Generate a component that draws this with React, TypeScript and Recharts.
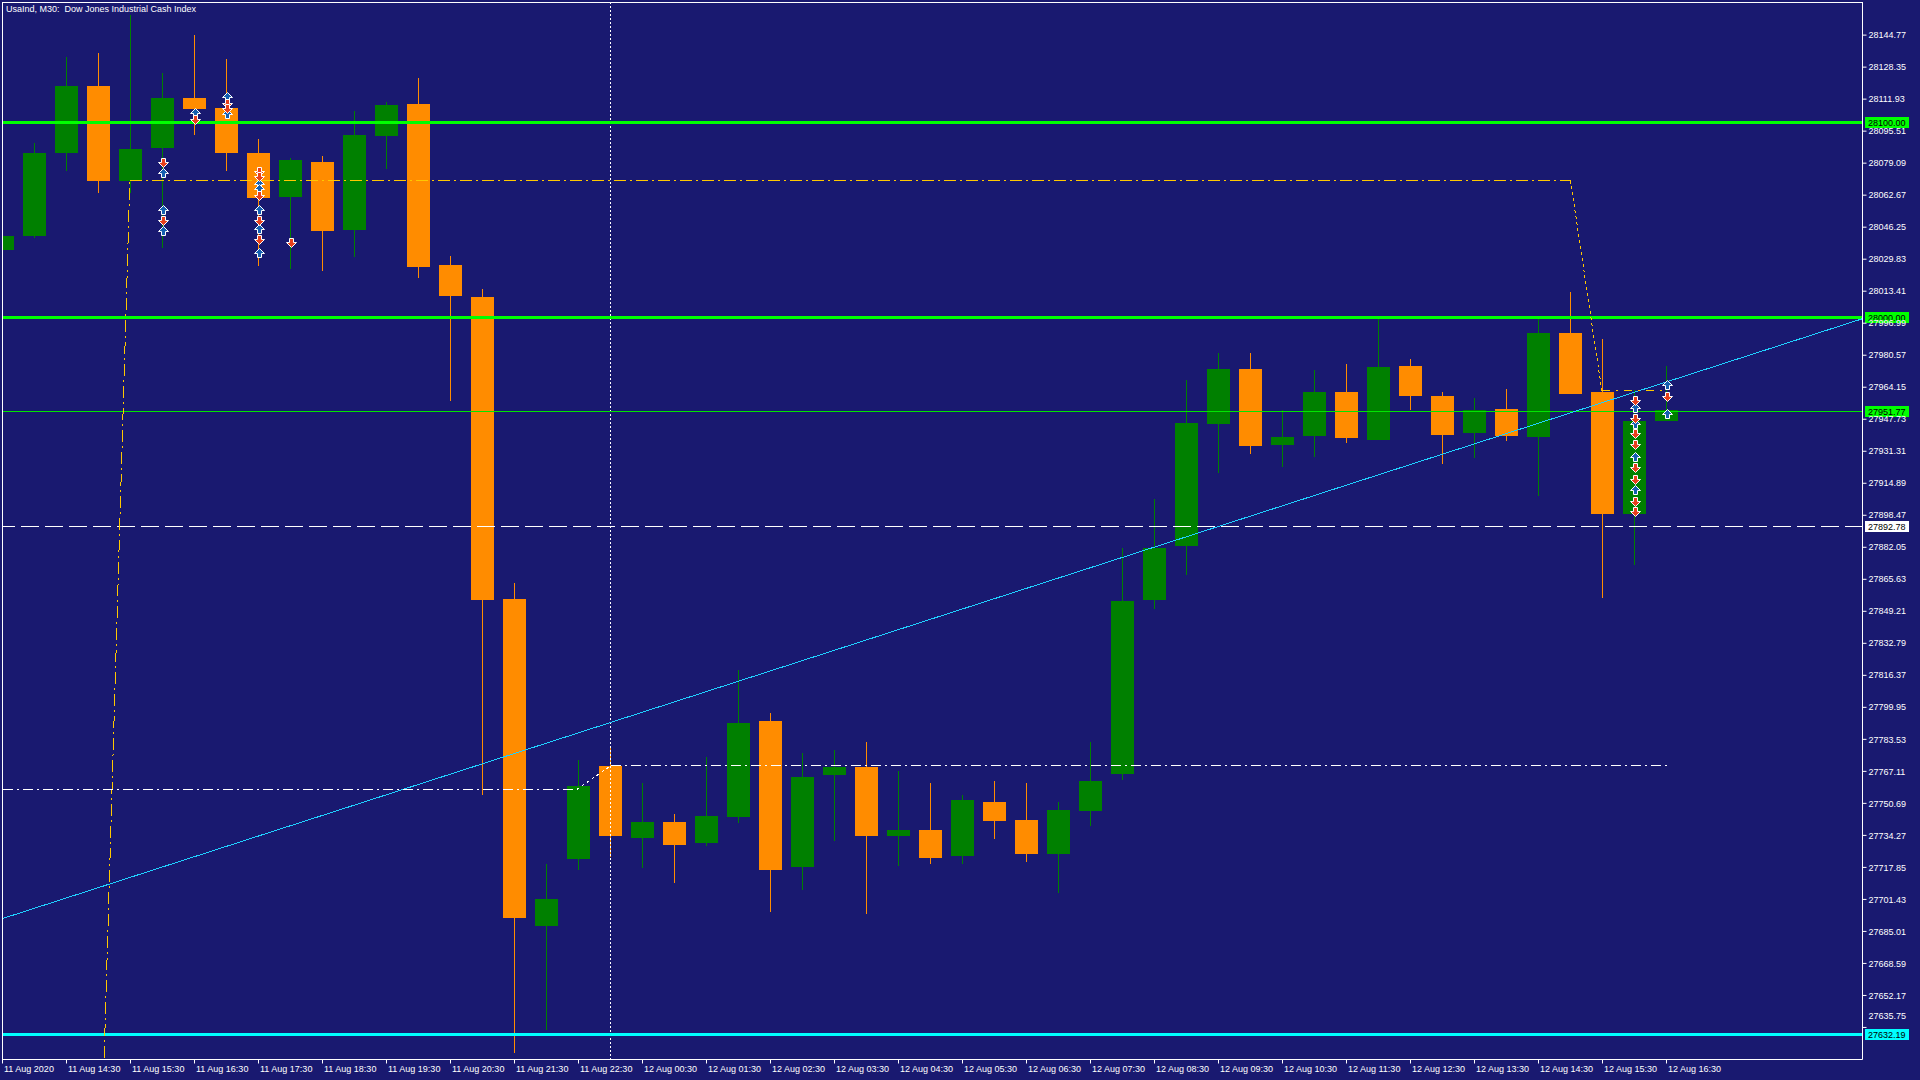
import { Bar, ComposedChart, ReferenceLine, Scatter, XAxis, YAxis } from 'recharts';

// M30 bars, index 0 = 11 Aug 13:30
const opens = [
  28034.5, 28041.8, 28084.5, 28118.8, 28069.9, 28086.9, 28112.6, 28107.4, 28084.5, 28061.9,
  28079.6, 28044.9, 28093.1, 28109.4, 28026.9, 28010.6, 27855.5, 27688.0, 27722.0, 27769.8,
  27732.7, 27741.0, 27730.6, 27743.5, 27792.7, 27717.8, 27765.0, 27769.1, 27733.7, 27736.9,
  27723.7, 27751.5, 27742.1, 27724.7, 27746.9, 27765.7, 27855.2, 27882.6, 27945.4, 27973.5,
  27934.3, 27939.1, 27961.7, 27937.0, 27975.2, 27959.6, 27940.5, 27953.0, 27938.4, 27991.9,
  27961.7, 27899.2, 27946.9,
];
const highs = [
  28042.2, 28089.3, 28133.7, 28135.8, 28155.2, 28125.1, 28144.8, 28132.7, 28091.4, 28081.7,
  28082.7, 28106.0, 28110.5, 28123.0, 28031.4, 28014.4, 27863.8, 27719.5, 27772.9, 27779.9,
  27761.1, 27745.2, 27774.3, 27819.1, 27796.9, 27776.4, 27778.1, 27782.0, 27767.4, 27761.1,
  27755.2, 27762.2, 27761.1, 27751.5, 27782.0, 27881.5, 27906.9, 27967.9, 27981.8, 27981.8,
  27952.6, 27973.1, 27976.2, 27999.8, 27978.7, 27961.7, 27958.5, 27963.4, 28000.9, 28013.0,
  27989.1, 27962.7, 27975.0,
];
const lows = [
  28034.0, 28040.8, 28075.1, 28064.0, 28064.0, 28035.6, 28093.5, 28075.1, 28026.2, 28024.8,
  28023.8, 28031.0, 28076.1, 28020.3, 27957.1, 27755.2, 27622.7, 27634.2, 27716.4, 27723.3,
  27717.5, 27709.8, 27729.0, 27740.7, 27695.2, 27706.0, 27731.3, 27694.2, 27718.5, 27719.5,
  27719.5, 27732.4, 27720.6, 27704.6, 27739.0, 27762.5, 27850.3, 27867.7, 27920.4, 27929.7,
  27923.2, 27928.4, 27935.3, 27937.0, 27952.6, 27924.6, 27927.7, 27936.4, 27908.6, 27960.6,
  27856.2, 27872.8, 27946.9,
];
const closes = [
  28041.8, 28084.5, 28118.8, 28069.9, 28086.5, 28112.6, 28106.7, 28084.5, 28061.2, 28080.6,
  28044.2, 28093.5, 28109.1, 28025.8, 28010.9, 27855.2, 27692.1, 27701.5, 27759.4, 27733.7,
  27741.0, 27729.2, 27744.1, 27792.0, 27716.4, 27764.3, 27769.5, 27733.7, 27736.9, 27722.6,
  27752.5, 27741.7, 27724.7, 27747.3, 27762.2, 27854.5, 27881.5, 27945.7, 27973.5, 27933.9,
  27938.8, 27961.7, 27938.1, 27974.5, 27959.9, 27939.5, 27952.6, 27939.1, 27991.9, 27960.6,
  27899.2, 27946.7, 27952.4,
];

// one label every second bar
const timeLabels = [
  '11 Aug 2020', '11 Aug 14:30', '11 Aug 15:30', '11 Aug 16:30', '11 Aug 17:30', '11 Aug 18:30',
  '11 Aug 19:30', '11 Aug 20:30', '11 Aug 21:30', '11 Aug 22:30', '12 Aug 00:30', '12 Aug 01:30',
  '12 Aug 02:30', '12 Aug 03:30', '12 Aug 04:30', '12 Aug 05:30', '12 Aug 06:30', '12 Aug 07:30',
  '12 Aug 08:30', '12 Aug 09:30', '12 Aug 10:30', '12 Aug 11:30', '12 Aug 12:30', '12 Aug 13:30',
  '12 Aug 14:30', '12 Aug 15:30', '12 Aug 16:30',
];

const priceTicks = [
  28144.77, 28128.35, 28111.93, 28095.51, 28079.09, 28062.67, 28046.25, 28029.83, 28013.41, 27996.99,
  27980.57, 27964.15, 27947.73, 27931.31, 27914.89, 27898.47, 27882.05, 27865.63, 27849.21, 27832.79,
  27816.37, 27799.95, 27783.53, 27767.11, 27750.69, 27734.27, 27717.85, 27701.43, 27685.01, 27668.59,
  27652.17, 27635.75,
];

// trade arrows
const buyBars = [5, 5, 5, 6, 7, 7, 8, 8, 8, 8, 8, 51, 51, 51, 51, 52, 52];
const buyPrices = [
  28074.0, 28055.1, 28044.4, 28105.0, 28113.0, 28104.3, 28068.4, 28065.7, 28055.1, 28045.2, 28032.9,
  27953.7, 27945.1, 27928.5, 27911.4, 27965.3, 27950.4,
];
const sellBars = [5, 5, 6, 7, 7, 8, 8, 8, 8, 8, 9, 51, 51, 51, 51, 51, 51, 51, 51, 52];
const sellPrices = [
  28079.8, 28049.9, 28101.6, 28109.8, 28107.2, 28075.1, 28072.7, 28062.8, 28050.1, 28040.0, 28038.8,
  27957.6, 27948.5, 27940.5, 27934.9, 27923.4, 27917.2, 27905.9, 27900.7, 27959.5,
];

// horizontal levels
const levelPrices = [28100.0, 28000.0, 27951.77, 27892.78, 27632.19];

// drawn objects: [bar, price] pairs
const trendLine = [[0, 27691.6], [58.125, 27999.3]];
const yellowPath = [[3.156, 27608.8], [3.98, 28070.2], [49.0, 28070.2], [49.98, 27962.3], [51.9, 27962.3]];
const whitePath = [[0, 27757.8], [17.95, 27757.8], [19.0, 27769.9], [52.0, 27769.9]];
const separatorBar = 19;

const X_DOMAIN: [number, number] = [0, 58.125];
const Y_DOMAIN: [number, number] = [27619.31, 28161.5];

const BG = '#191970';
const UP = '#008000';
const DOWN = '#ff8c00';
const FONT = '"Liberation Sans", Arial, sans-serif';

const candles = opens.map((o, i) => ({ i, o, h: highs[i], l: lows[i], c: closes[i] }));
const buys = buyBars.map((i, n) => ({ i, p: buyPrices[n] }));
const sells = sellBars.map((i, n) => ({ i, p: sellPrices[n] }));

function Candle(props: any) {
  const { x, y, width, height, payload } = props;
  if (!payload || height == null) return null;
  const { o, h, l, c } = payload;
  const cx = x + width / 2;
  const k = height / (h - l || 1);
  const yo = y + (h - o) * k;
  const yc = y + (h - c) * k;
  const color = c >= o ? UP : DOWN;
  const top = Math.round(Math.min(yo, yc));
  const bot = Math.max(top + 1, Math.round(Math.max(yo, yc)));
  const wt = Math.round(y);
  const wb = Math.round(y + height);
  return (
    <g shapeRendering="crispEdges">
      <rect x={cx - 0.5} y={wt} width={1} height={Math.max(1, wb - wt)} fill={color} />
      <rect x={cx - 11.5} y={top} width={23} height={bot - top} fill={color} />
    </g>
  );
}

function UpArrow({ cx, cy }: any) {
  if (cx == null) return null;
  const px = Math.round(cx) + 0.5;
  const py = Math.round(cy) + 0.5;
  const pts = [[0, -5], [5, 0], [2, 0], [2, 4], [-2, 4], [-2, 0], [-5, 0]];
  return (
    <polygon
      points={pts.map(([a, b]) => `${px + a},${py + b}`).join(' ')}
      fill="#1560b0"
      stroke="#ffffff"
      strokeWidth={1}
    />
  );
}

function DownArrow({ cx, cy }: any) {
  if (cx == null) return null;
  const px = Math.round(cx) + 0.5;
  const py = Math.round(cy) + 0.5;
  const pts = [[0, 5], [5, 0], [2, 0], [2, -4], [-2, -4], [-2, 0], [-5, 0]];
  return (
    <polygon
      points={pts.map(([a, b]) => `${px + a},${py + b}`).join(' ')}
      fill="#e8401c"
      stroke="#ffffff"
      strokeWidth={1}
    />
  );
}

function PriceBox({ viewBox, bg, text }: any) {
  if (!viewBox) return null;
  const x = viewBox.x + viewBox.width + 2.5;
  const y = Math.round(viewBox.y);
  return (
    <g>
      <rect x={x} y={y - 5} width={44} height={11} fill={bg} />
      <text x={x + 3} y={y + 0.5} dy="0.35em" fill="#000000" fontSize={9} fontFamily={FONT}>
        {text}
      </text>
    </g>
  );
}

function TimeTick({ x, y, payload }: any) {
  return (
    <text x={x + 1.5} y={y} dy="0.71em" fill="#ffffff" fontSize={9} fontFamily={FONT} textAnchor="start">
      {timeLabels[payload.value / 2]}
    </text>
  );
}

function PriceTick({ x, y, payload }: any) {
  const last = payload.value === priceTicks[priceTicks.length - 1];
  return (
    <text x={x} y={y + (last ? -12 : 0)} dy="0.35em" fill="#ffffff" fontSize={9} fontFamily={FONT} textAnchor="start">
      {payload.value.toFixed(2)}
    </text>
  );
}

function segs(path: number[][]) {
  return path.slice(1).map((pt, n) => [
    { x: path[n][0], y: path[n][1] },
    { x: pt[0], y: pt[1] },
  ]);
}

const levelStyles = [
  { stroke: '#00ff00', width: 3, dash: undefined, bg: '#00ff00' },
  { stroke: '#00ff00', width: 3, dash: undefined, bg: '#00ff00' },
  { stroke: '#00e600', width: 1, dash: undefined, bg: '#00ff00' },
  { stroke: '#ffffff', width: 1, dash: '18 6', bg: '#ffffff' },
  { stroke: '#00ffff', width: 3, dash: undefined, bg: '#00ffff' },
];

export default function App() {
  const xTicks = timeLabels.map((_, n) => n * 2);
  return (
    <div style={{ position: 'fixed', left: 0, top: 0, width: 1920, height: 1080, background: BG, overflow: 'hidden' }}>
      <ComposedChart
        width={1920}
        height={1080}
        data={candles}
        margin={{ top: 2.5, right: 0, bottom: 0, left: 2.5 }}
      >
        <XAxis
          dataKey="i"
          type="number"
          domain={X_DOMAIN}
          allowDataOverflow
          ticks={xTicks}
          interval={0}
          height={20.5}
          axisLine={{ stroke: '#ffffff' }}
          tickLine={{ stroke: '#ffffff' }}
          tickSize={4}
          tickMargin={2}
          tick={<TimeTick />}
        />
        <YAxis
          orientation="right"
          type="number"
          domain={Y_DOMAIN}
          allowDataOverflow
          ticks={priceTicks}
          interval={0}
          width={57.5}
          axisLine={{ stroke: '#ffffff' }}
          tickLine={{ stroke: '#ffffff' }}
          tickSize={4}
          tickMargin={2}
          tick={<PriceTick />}
        />
        <Bar dataKey={(d: any) => [d.l, d.h]} barSize={24} shape={<Candle />} isAnimationActive={false} />
        <ReferenceLine
          x={separatorBar}
          stroke="#ffffff"
          strokeDasharray="2 2"
          ifOverflow="hidden"
          shapeRendering="crispEdges"
        />
        {levelPrices.map((p, n) => (
          <ReferenceLine
            key={p}
            y={p}
            stroke={levelStyles[n].stroke}
            strokeWidth={levelStyles[n].width}
            strokeDasharray={levelStyles[n].dash}
            shapeRendering="crispEdges"
            label={<PriceBox bg={levelStyles[n].bg} text={p.toFixed(2)} />}
          />
        ))}
        {segs(trendLine).map((s, n) => (
          <ReferenceLine
            key={'t' + n}
            segment={s}
            stroke="#20d0ff"
            strokeWidth={1}
            shapeRendering="crispEdges"
            ifOverflow="hidden"
          />
        ))}
        {segs(yellowPath).map((s, n) => (
          <ReferenceLine
            key={'y' + n}
            segment={s}
            stroke="#ffc800"
            strokeWidth={1}
            strokeDasharray={n === 3 ? '8 6 2 6' : n === 2 ? '3 3' : '12 4 2 4'}
            shapeRendering="crispEdges"
            ifOverflow="hidden"
          />
        ))}
        {segs(whitePath).map((s, n) => (
          <ReferenceLine
            key={'w' + n}
            segment={s}
            stroke="#ffffff"
            strokeWidth={1}
            strokeDasharray={n === 1 ? '3 3' : '10 4 2 4'}
            shapeRendering="crispEdges"
            ifOverflow="hidden"
          />
        ))}
        <Scatter data={buys} dataKey="p" shape={<UpArrow />} isAnimationActive={false} />
        <Scatter data={sells} dataKey="p" shape={<DownArrow />} isAnimationActive={false} />
      </ComposedChart>
      <div
        style={{
          position: 'absolute',
          left: 2,
          top: 2,
          width: 1860,
          height: 1057,
          borderLeft: '1px solid #ffffff',
          borderTop: '1px solid #ffffff',
          pointerEvents: 'none',
        }}
      />
      <div
        style={{
          position: 'absolute',
          left: 6,
          top: 3,
          color: '#ffffff',
          fontFamily: FONT,
          fontSize: 9,
          lineHeight: '12px',
          whiteSpace: 'pre',
        }}
      >
        {'UsaInd, M30:  Dow Jones Industrial Cash Index'}
      </div>
    </div>
  );
}
